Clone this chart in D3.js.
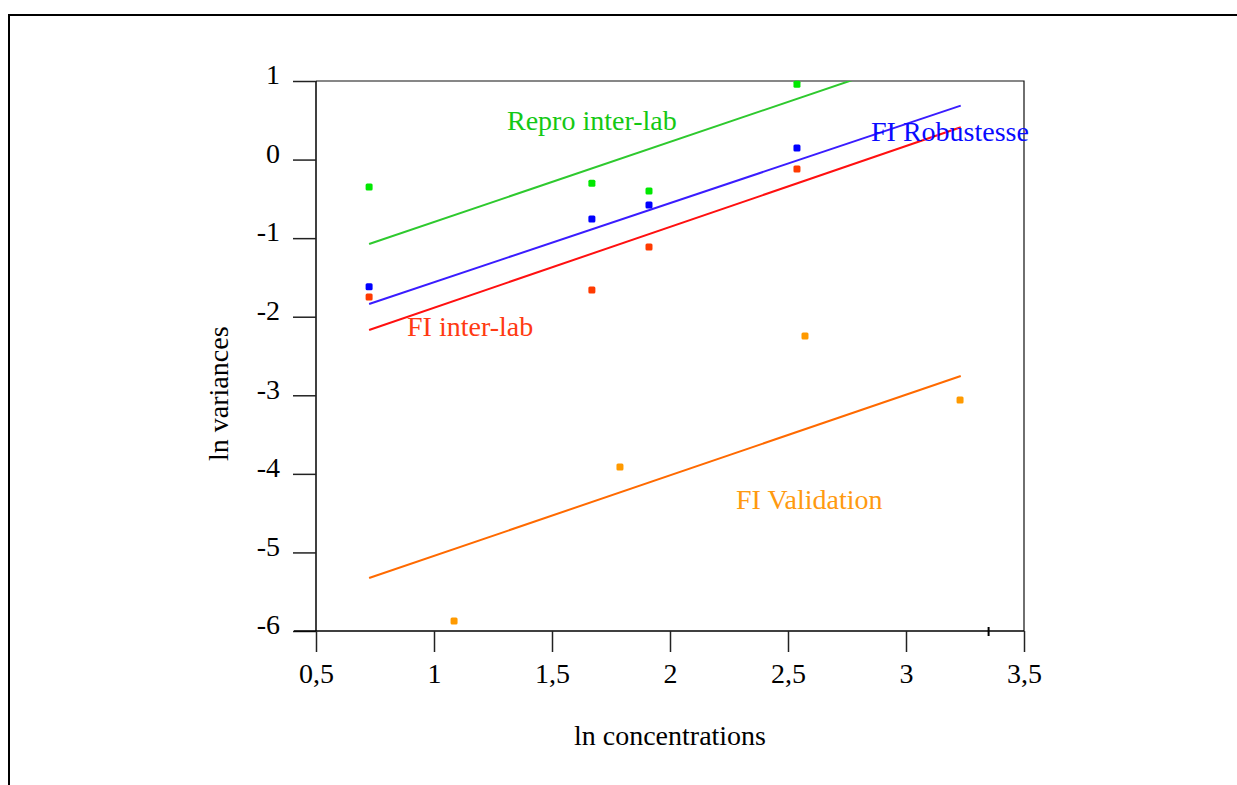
<!DOCTYPE html>
<meta charset="utf-8">
<script src="https://d3js.org/d3.v7.min.js"></script>
<style>
  body { margin: 0; background: #fff; }
  text { font-family: "Liberation Serif", "Times New Roman", serif; }
</style>
<div id="chart"></div>
<script>
// ln concentrations of the measured levels
var xRepro = [0.725, 1.669, 1.911, 2.538];
var yRepro = [-0.35, -0.30, -0.40, 0.96];
var xRobust = [0.725, 1.669, 1.911, 2.538];
var yRobust = [-1.62, -0.756, -0.578, 0.147];
var xInter = [0.725, 1.669, 1.911, 2.538];
var yInter = [-1.749, -1.66, -1.113, -0.12];
var xValid = [1.085, 1.788, 2.572, 3.229];
var yValid = [-5.873, -3.913, -2.245, -3.06];

// fitted lines: ln variance at start and end of the fit range
var fitX = [0.725, 3.232];
var fitRepro = [-1.075, 1.48];
var fitRobust = [-1.838, 0.686];
var fitInter = [-2.169, 0.411];
var fitValid = [-5.326, -2.755];

var xTicks = [0.5, 1, 1.5, 2, 2.5, 3, 3.5];
var xTickLabels = ["0,5", "1", "1,5", "2", "2,5", "3", "3,5"];
var yTicks = [1, 0, -1, -2, -3, -4, -5, -6];
var extraTicks = [3.35];

var series = [
  {name: "Repro inter-lab", xs: xRepro, ys: yRepro, fit: fitRepro,
   point: "#00e800", line: "#2ec92e", text: "#14c814", lx: 507, ly: 130},
  {name: "FI Robustesse", xs: xRobust, ys: yRobust, fit: fitRobust,
   point: "#0000ff", line: "#3a1cff", text: "#0a0aff", lx: 871, ly: 141},
  {name: "FI inter-lab", xs: xInter, ys: yInter, fit: fitInter,
   point: "#ff3a00", line: "#ff1010", text: "#ff3a12", lx: 407, ly: 336},
  {name: "FI Validation", xs: xValid, ys: yValid, fit: fitValid,
   point: "#ff9a00", line: "#ff6a00", text: "#ff9a10", lx: 736, ly: 509}
];

var W = 1237, H = 785;
var margin = {left: 316, top: 81, right: 213, bottom: 154};
var width = W - margin.left - margin.right,
    height = H - margin.top - margin.bottom;

var svg = d3.select("#chart").append("svg")
    .attr("width", W)
    .attr("height", H);

// outer frame (top and left edges)
svg.append("path")
    .attr("d", "M9," + H + "V15H" + W)
    .attr("fill", "none")
    .attr("stroke", "#000")
    .attr("stroke-width", 2);

var g = svg.append("g")
    .attr("transform", "translate(" + margin.left + "," + margin.top + ")");

var x = d3.scaleLinear().domain([0.5, 3.5]).range([0, width]);
var y = d3.scaleLinear().domain([-6, 1]).range([height, 0]);

g.append("defs").append("clipPath").attr("id", "clip")
  .append("rect").attr("width", width).attr("height", height);

// plot box top & right
g.append("path")
    .attr("d", "M0,0H" + width + "V" + height)
    .attr("fill", "none")
    .attr("stroke", "#111")
    .attr("stroke-width", 1.2);

// y axis
var yAxis = g.append("g")
    .call(d3.axisLeft(y).tickValues(yTicks).tickSize(23).tickFormat(d3.format("d")));
yAxis.select(".domain").attr("stroke-width", 1.5).attr("d", "M0,0V" + height);
yAxis.selectAll(".tick line").attr("stroke", "#222").attr("stroke-width", 1.5);
yAxis.selectAll(".tick text")
    .attr("x", -36)
    .attr("dy", "0.1em")
    .attr("font-size", 28)
    .attr("font-family", "Liberation Serif, serif")
    .attr("fill", "#000")
    .text(function(d) { return d < 0 ? "-" + Math.abs(d) : d; });

// x axis
var xAxis = g.append("g")
    .attr("transform", "translate(0," + height + ")")
    .call(d3.axisBottom(x).tickValues(xTicks).tickSize(21)
      .tickFormat(function(d, i) { return xTickLabels[i]; }));
xAxis.select(".domain").attr("stroke-width", 1.5).attr("d", "M-22,0H" + width);
xAxis.selectAll(".tick line").attr("stroke", "#222").attr("stroke-width", 1.5);
xAxis.selectAll(".tick text")
    .attr("y", 52)
    .attr("dy", 0)
    .attr("font-size", 28)
    .attr("font-family", "Liberation Serif, serif")
    .attr("fill", "#000");

// stray minor tick
g.selectAll(".xtra").data(extraTicks).enter().append("line")
    .attr("x1", function(d) { return x(d); })
    .attr("x2", function(d) { return x(d); })
    .attr("y1", height - 4)
    .attr("y2", height + 5)
    .attr("stroke", "#000")
    .attr("stroke-width", 2);

// axis titles
g.append("text")
    .attr("x", x(2))
    .attr("y", height + 114)
    .attr("text-anchor", "middle")
    .attr("font-size", 28)
    .text("ln concentrations");

g.append("text")
    .attr("transform", "translate(-88," + (y(-2.98)) + ") rotate(-90)")
    .attr("text-anchor", "middle")
    .attr("font-size", 28)
    .text("ln variances");

// fitted lines
var plot = g.append("g").attr("clip-path", "url(#clip)");
series.forEach(function(s) {
  plot.append("line")
      .attr("x1", x(fitX[0]))
      .attr("y1", y(s.fit[0]))
      .attr("x2", x(fitX[1]))
      .attr("y2", y(s.fit[1]))
      .attr("stroke", s.line)
      .attr("stroke-width", 2);
});

// points
series.forEach(function(s) {
  g.selectAll(null).data(s.xs).enter().append("rect")
      .attr("x", function(d) { return x(d) - 3.5; })
      .attr("y", function(d, i) { return y(s.ys[i]) - 3.5; })
      .attr("width", 7)
      .attr("height", 7)
      .attr("rx", 1.5)
      .attr("fill", s.point);
});

// series labels
series.forEach(function(s) {
  svg.append("text")
      .attr("x", s.lx)
      .attr("y", s.ly)
      .attr("font-size", 28)
      .attr("fill", s.text)
      .text(s.name);
});
</script>
